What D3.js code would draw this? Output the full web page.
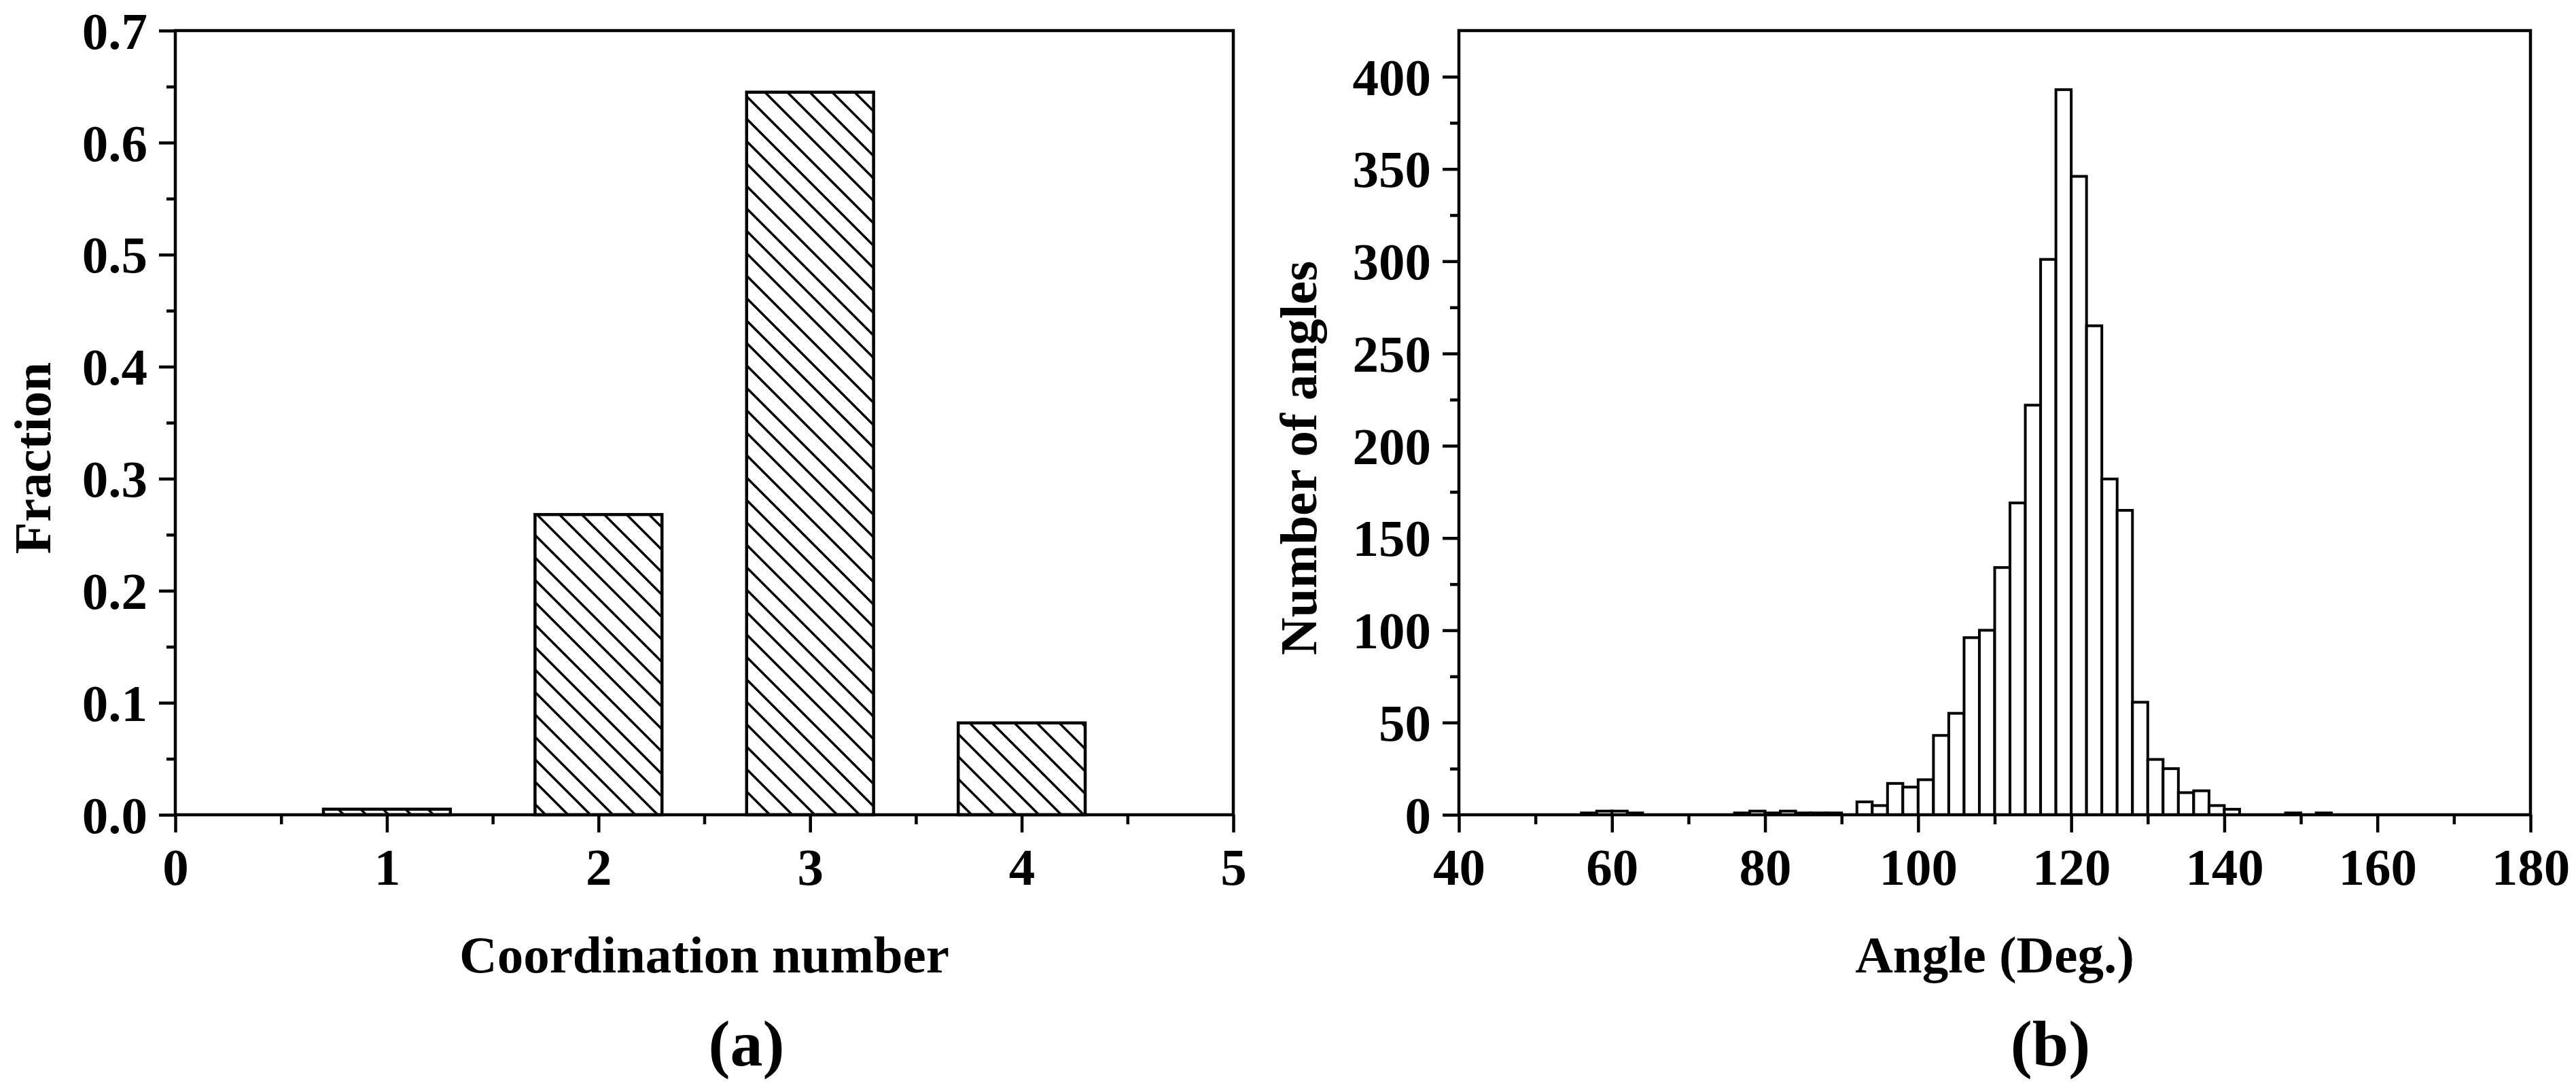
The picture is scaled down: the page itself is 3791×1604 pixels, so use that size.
<!DOCTYPE html>
<html>
<head>
<meta charset="utf-8">
<script src="https://cdn.jsdelivr.net/npm/d3@7"></script>
<style>
    body { margin: 0; background: #fff; }
    svg text { font-family: "Liberation Serif", "Times New Roman", serif; font-weight: bold; fill: #000; }
</style>
</head>
<body>
<div id="chart"></div>
<script>
// panel (a): coordination number distribution
const coordNumbers = [1, 2, 3, 4];
const coordFractions = [0.005, 0.268, 0.645, 0.082];
const coordTicks = [0, 1, 2, 3, 4, 5];
const coordMinorTicks = [0.5, 1.5, 2.5, 3.5, 4.5];
const fractionTicks = [0, 0.1, 0.2, 0.3, 0.4, 0.5, 0.6, 0.7];
const fractionMinorTicks = [0.05, 0.15, 0.25, 0.35, 0.45, 0.55, 0.65];

// panel (b): bond angle histogram, 2 degree bins (left edge)
const angleBinStarts = [56, 58, 60, 62, 76, 78, 80, 82, 84, 86, 88,
    92, 94, 96, 98, 100, 102, 104, 106, 108, 110, 112, 114, 116, 118,
    120, 122, 124, 126, 128, 130, 132, 134, 136, 138, 140, 148, 152];
const angleCounts = [1, 2, 2, 1, 1, 2, 1, 2, 1, 1, 1,
    7, 5, 17, 15, 19, 43, 55, 96, 100, 134, 169, 222, 301, 393,
    346, 265, 182, 165, 61, 30, 25, 12, 13, 5, 3, 1, 1];
const angleTicks = [40, 60, 80, 100, 120, 140, 160, 180];
const angleMinorTicks = [50, 70, 90, 110, 130, 150, 170];
const countTicks = [0, 50, 100, 150, 200, 250, 300, 350, 400];
const countMinorTicks = [25, 75, 125, 175, 225, 275, 325, 375];

const binWidth = 2;
const barHalfWidth = 0.3;

const width = 3791;
const height = 1604;
const fontSize = 77;
const lineW = 4.5;

const svg = d3.select("#chart")
    .append("svg")
    .attr("width", width)
    .attr("height", height)
    .style("background", "#fff");

// diagonal hatch for panel (a)
svg.append("defs")
    .append("pattern")
    .attr("id", "hatch")
    .attr("patternUnits", "userSpaceOnUse")
    .attr("width", 33)
    .attr("height", 33)
    .append("path")
    .attr("d", "M-8,-8L41,41M-8,25L8,41M25,-8L41,8")
    .attr("stroke", "#000")
    .attr("stroke-width", 3.5);

function drawAxes(x, y, opt) {
    const [x0, x1] = x.range();
    const [y0, y1] = y.range();

    const xAxis = svg.append("g")
        .attr("transform", `translate(0,${y0})`)
        .call(d3.axisBottom(x).tickValues(opt.xTicks).tickSize(26).tickPadding(22)
            .tickFormat(opt.xFormat));
    const xMinor = svg.append("g")
        .attr("transform", `translate(0,${y0})`)
        .call(d3.axisBottom(x).tickValues(opt.xMinor).tickSize(14).tickFormat(""));

    const yAxis = svg.append("g")
        .attr("transform", `translate(${x0},0)`)
        .call(d3.axisLeft(y).tickValues(opt.yTicks).tickSize(24).tickPadding(17)
            .tickFormat(opt.yFormat));
    const yMinor = svg.append("g")
        .attr("transform", `translate(${x0},0)`)
        .call(d3.axisLeft(y).tickValues(opt.yMinor).tickSize(13).tickFormat(""));

    [xAxis, xMinor, yAxis, yMinor].forEach(g => {
        g.select(".domain").remove();
        g.selectAll("line").attr("stroke", "#000").attr("stroke-width", lineW);
        g.selectAll("text")
            .attr("font-size", fontSize + "px")
            .style("font-family", "'Liberation Serif', 'Times New Roman', serif")
            .style("font-weight", "bold")
            .attr("fill", "#000");
    });
    yAxis.selectAll("text").attr("dy", "0.34em");

    svg.append("rect")
        .attr("x", x0)
        .attr("y", y1)
        .attr("width", x1 - x0)
        .attr("height", y0 - y1)
        .attr("fill", "none")
        .attr("stroke", "#000")
        .attr("stroke-width", lineW);

    svg.append("text")
        .attr("x", (x0 + x1) / 2)
        .attr("y", 1431)
        .attr("text-anchor", "middle")
        .attr("font-size", fontSize + "px")
        .text(opt.xTitle);

    svg.append("text")
        .attr("transform", `translate(${opt.yTitleX},${(y0 + y1) / 2 + 52}) rotate(-90)`)
        .attr("text-anchor", "middle")
        .attr("font-size", fontSize + "px")
        .text(opt.yTitle);

    svg.append("text")
        .attr("x", (x0 + x1) / 2 + opt.tagShift)
        .attr("y", 1568)
        .attr("text-anchor", "middle")
        .attr("font-size", "96px")
        .text(opt.tag);
}

// ---- panel (a)
const xA = d3.scaleLinear().domain([0, 5]).range([258, 1815]);
const yA = d3.scaleLinear().domain([0, 0.7]).range([1199, 45]);

svg.selectAll(".coord-bar")
    .data(coordNumbers.map((c, i) => ({ c, f: coordFractions[i] })))
    .enter()
    .append("rect")
    .attr("class", "coord-bar")
    .attr("x", d => xA(d.c - barHalfWidth))
    .attr("y", d => yA(d.f))
    .attr("width", d => xA(d.c + barHalfWidth) - xA(d.c - barHalfWidth))
    .attr("height", d => yA(0) - yA(d.f))
    .attr("fill", "url(#hatch)")
    .attr("stroke", "#000")
    .attr("stroke-width", lineW);

drawAxes(xA, yA, {
    xTicks: coordTicks, xMinor: coordMinorTicks, xFormat: d3.format("d"),
    yTicks: fractionTicks, yMinor: fractionMinorTicks, yFormat: d3.format(".1f"),
    xTitle: "Coordination number", yTitle: "Fraction", yTitleX: 74,
    tag: "(a)", tagShift: 62
});

// ---- panel (b)
const xB = d3.scaleLinear().domain([40, 180]).range([2147, 3724]);
const yB = d3.scaleLinear().domain([0, 425]).range([1199, 45]);

svg.selectAll(".angle-bar")
    .data(angleBinStarts.map((a, i) => ({ a, n: angleCounts[i] })))
    .enter()
    .append("rect")
    .attr("class", "angle-bar")
    .attr("x", d => xB(d.a))
    .attr("y", d => yB(d.n))
    .attr("width", d => xB(d.a + binWidth) - xB(d.a))
    .attr("height", d => yB(0) - yB(d.n))
    .attr("fill", "#fff")
    .attr("stroke", "#000")
    .attr("stroke-width", 4);

drawAxes(xB, yB, {
    xTicks: angleTicks, xMinor: angleMinorTicks, xFormat: d3.format("d"),
    yTicks: countTicks, yMinor: countMinorTicks, yFormat: d3.format("d"),
    xTitle: "Angle (Deg.)", yTitle: "Number of angles", yTitleX: 1937,
    tag: "(b)", tagShift: 82
});
</script>
</body>
</html>
